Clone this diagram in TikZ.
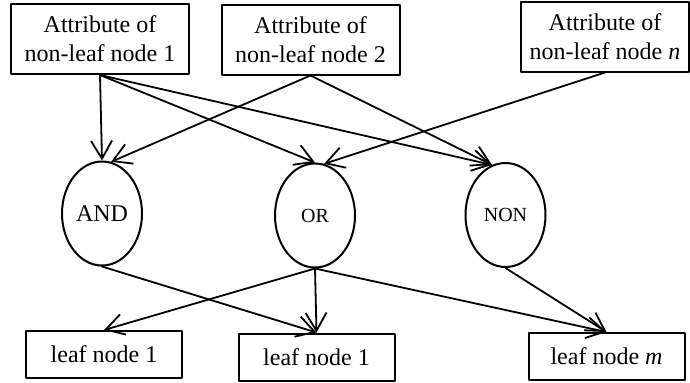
\documentclass[tikz,border=0pt]{standalone}
\usepackage{fontspec}
\setmainfont{Liberation Serif}
\usetikzlibrary{arrows.meta,shapes.geometric}
\tikzset{
    every picture/.style={line cap=round,line join=round},
    attrbox/.style={draw=black,line width=1pt,minimum width=89pt,minimum height=35pt,
      inner sep=2pt,align=center,font=\fontsize{12pt}{14.5pt}\selectfont},
    leafbox/.style={draw=black,line width=1pt,minimum width=78pt,minimum height=23.5pt,
      inner sep=2pt,font=\fontsize{12pt}{14pt}\selectfont},
    gatenode/.style={draw=black,ellipse,line width=1pt,minimum width=40pt,
      minimum height=52pt,inner sep=0pt,font=\fontsize{10pt}{12pt}\selectfont},
    flowarrow/.style={-{Straight Barb[length=9pt,width=10.5pt]},draw=black,
      line width=0.9pt}
}
\begin{document}
\begin{tikzpicture}[x=0.5pt,y=-0.5pt]
  \useasboundingbox (0,0) rectangle (690,382);
  % attributes of the non-leaf nodes
  \node[attrbox] (t1) at (100,39) {Attribute of\\non-leaf node 1};
  \node[attrbox] (t2) at (310.5,39.5) {Attribute of\\non-leaf node 2};
  \node[attrbox,minimum width=84pt] (tn) at (605,36.5) {Attribute of\\non-leaf node \textit{n}};
  % logic gates
  \node[gatenode,font=\fontsize{12pt}{14pt}\selectfont] (andg) at (102,213.5) {AND};
  \node[gatenode] (org) at (315,215.5) {OR};
  \node[gatenode] (nong) at (505.5,215) {NON};
  % leaf nodes
  \node[leafbox] (l1) at (104,354.5) {leaf node 1};
  \node[leafbox] (l2) at (316.5,357) {leaf node 1};
  \node[leafbox] (lm) at (606.5,356.5) {leaf node \textit{m}};
  % upper connectors
  \draw[flowarrow] (t1.south) -- (andg.north);
  \draw[flowarrow] (t1.south) -- (org.north);
  \draw[flowarrow] (t1.south) -- (nong.105);
  \draw[flowarrow] (t2.south) -- (andg.80);
  \draw[flowarrow] (t2.south) -- (nong.105);
  \draw[flowarrow] (tn.south) -- (org.80);
  % lower connectors
  \draw[flowarrow] (andg.south) -- (l2.north);
  \draw[flowarrow] (org.south) -- (l1.north);
  \draw[flowarrow] (org.south) -- (l2.north);
  \draw[flowarrow] (org.south) -- (lm.north);
  \draw[flowarrow] (nong.south) -- (lm.north);
\end{tikzpicture}
\end{document}
